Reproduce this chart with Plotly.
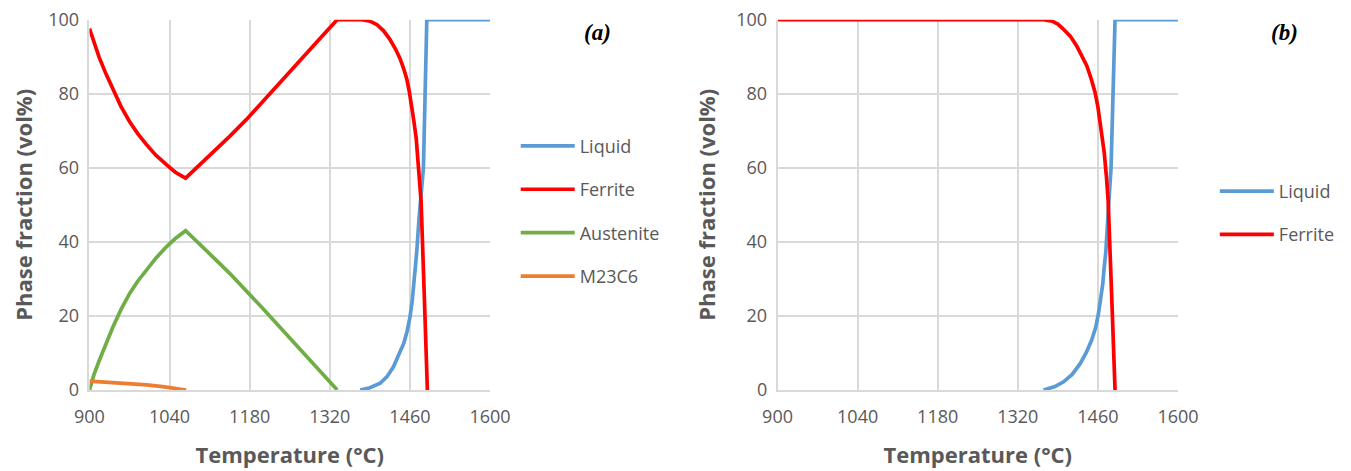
import plotly.graph_objects as go

# ---------------- data: panel (a) ----------------
temp_ferrite_a = [900, 908, 917, 929, 941, 955, 970, 984, 999, 1016, 1034, 1050, 1068,
                  1090, 1116, 1145, 1174, 1203, 1232, 1262, 1291, 1312, 1333,
                  1360, 1376, 1390, 1402, 1414, 1425, 1435, 1443, 1449, 1454.5, 1459,
                  1463, 1467, 1471, 1476, 1479.5, 1485, 1490.5]
ferrite_a = [97.6, 93.6, 89.8, 85.3, 81.2, 76.6, 72.5, 69.3, 66.4, 63.4, 60.9, 58.8, 57.2,
             60.4, 64, 68.5, 73, 78, 83, 88, 93, 96.5, 100,
             100, 100, 99.6, 98.7, 97, 94.7, 92, 89.4, 86.8, 84, 80.5,
             76.9, 72.5, 67.9, 59, 51, 26, 0]

temp_austenite_a = [900, 908, 917.5, 929, 941, 955, 970, 984, 999, 1016, 1034, 1050, 1068,
                    1090, 1116, 1145, 1174, 1203, 1232.5, 1262, 1291, 1312, 1333]
austenite_a = [0, 4.2, 8.1, 12.8, 17, 21.7, 26, 29.3, 32.3, 35.6, 38.6, 40.9, 43,
               39.6, 35.9, 31.5, 26.9, 22, 17, 12.1, 7.2, 3.6, 0]

temp_m23c6_a = [900, 935, 970, 1000, 1028, 1050, 1069]
m23c6_a = [2.4, 2.1, 1.8, 1.4, 0.9, 0.45, 0]

temp_liquid_a = [1373, 1390, 1408, 1420, 1431, 1441, 1449, 1455, 1460, 1464, 1467, 1470,
                 1472, 1476, 1478, 1483.6, 1489.5, 1600]
liquid_a = [0, 0.6, 1.8, 3.6, 6.2, 9.5, 12.5, 15.8, 19.6, 24, 28.6, 33,
            37.5, 46.5, 51, 60, 100, 100]

# ---------------- data: panel (b) ----------------
temp_ferrite_b = [900, 1365, 1380, 1390, 1400, 1412, 1423, 1432, 1440.6, 1448, 1455, 1460,
                  1464, 1468, 1471, 1475, 1478, 1484, 1490]
ferrite_b = [100, 100, 99.6, 98.8, 97.4, 95.5, 92.9, 90.4, 87.6, 84.2, 80.4, 76.5,
             72.4, 68, 64.3, 57.5, 51, 26, 0]

temp_liquid_b = [1365, 1385, 1400, 1415, 1429, 1440, 1449, 1456, 1461, 1465, 1468.5, 1471,
                 1474, 1478, 1483, 1490, 1600]
liquid_b = [0, 0.9, 2.2, 4.2, 7.1, 10.2, 13.4, 16.8, 20.6, 24.5, 28.6, 33,
            37.5, 48, 60, 100, 100]

x_ticks = [900, 1040, 1180, 1320, 1460, 1600]
y_ticks = [0, 20, 40, 60, 80, 100]

C_LIQ = "#5B9BD5"
C_FER = "#FF0000"
C_AUS = "#70AD47"
C_M23 = "#ED7D31"
TXT = "#595959"
GRID = "#D9D9D9"

fig = go.Figure()

def add(x, y, name, color, xa, ya, legend, group):
    fig.add_trace(go.Scatter(x=x, y=y, name=name, mode="lines",
                             line=dict(color=color, width=3.7),
                             xaxis=xa, yaxis=ya, legend=legend, legendgroup=group))

add(temp_liquid_a, liquid_a, "Liquid", C_LIQ, "x", "y", "legend", "a1")
add(temp_ferrite_a, ferrite_a, "Ferrite", C_FER, "x", "y", "legend", "a2")
add(temp_austenite_a, austenite_a, "Austenite", C_AUS, "x", "y", "legend", "a3")
add(temp_m23c6_a, m23c6_a, "M23C6", C_M23, "x", "y", "legend", "a4")

add(temp_liquid_b, liquid_b, "Liquid", C_LIQ, "x2", "y2", "legend2", "b1")
add(temp_ferrite_b, ferrite_b, "Ferrite", C_FER, "x2", "y2", "legend2", "b2")

tickfont = dict(family="Open Sans", size=18, color=TXT)
titlefont = dict(family="Open Sans", size=22, color=TXT, weight="bold")

# the page adds an 8px body margin, positions below compensate for it
def xaxis(domain, anchor):
    return dict(domain=domain, anchor=anchor, range=[900, 1600], tickvals=x_ticks,
                showgrid=True, gridcolor=GRID, gridwidth=1.5, showline=True,
                linecolor=GRID, linewidth=1.5, zeroline=False, ticks="",
                tickfont=tickfont, ticklabelstandoff=10, automargin=False,
                ticklabeloverflow="allow",
                title=dict(text="Temperature (°C)", font=titlefont, standoff=20))

def yaxis(anchor):
    return dict(domain=[0.189, 0.9752], anchor=anchor, range=[0, 100], tickvals=y_ticks,
                showgrid=True, gridcolor=GRID, gridwidth=1.5, showline=True,
                linecolor=GRID, linewidth=1.5, zeroline=False, ticks="",
                tickfont=tickfont, ticklabelstandoff=5, automargin=False,
                ticklabeloverflow="allow",
                title=dict(text="Phase fraction (vol%)", font=titlefont, standoff=15))

legend_common = dict(font=dict(family="Open Sans", size=18, color=TXT),
                     bgcolor="rgba(0,0,0,0)", tracegroupgap=17,
                     xanchor="left", yanchor="top", itemwidth=54)

fig.update_layout(
    width=1351, height=471,
    margin=dict(l=0, r=0, t=0, b=0),
    paper_bgcolor="white", plot_bgcolor="white",
    xaxis=xaxis([0.0603, 0.3568], "y"),
    yaxis=yaxis("x"),
    xaxis2=xaxis([0.5696, 0.8660], "y2"),
    yaxis2=yaxis("x2"),
    legend=dict(x=0.3758, y=0.746, **legend_common),
    legend2=dict(x=0.8933, y=0.65, **legend_common),
    annotations=[
        dict(text="<b><i>(a)</i></b>", x=0.4367, y=0.947, xref="paper", yref="paper",
             xanchor="center", yanchor="middle", showarrow=False,
             font=dict(family="Liberation Serif", size=23, color="black")),
        dict(text="<b><i>(b)</i></b>", x=0.945, y=0.947, xref="paper", yref="paper",
             xanchor="center", yanchor="middle", showarrow=False,
             font=dict(family="Liberation Serif", size=23, color="black")),
    ],
)

fig.write_html("out.html")
